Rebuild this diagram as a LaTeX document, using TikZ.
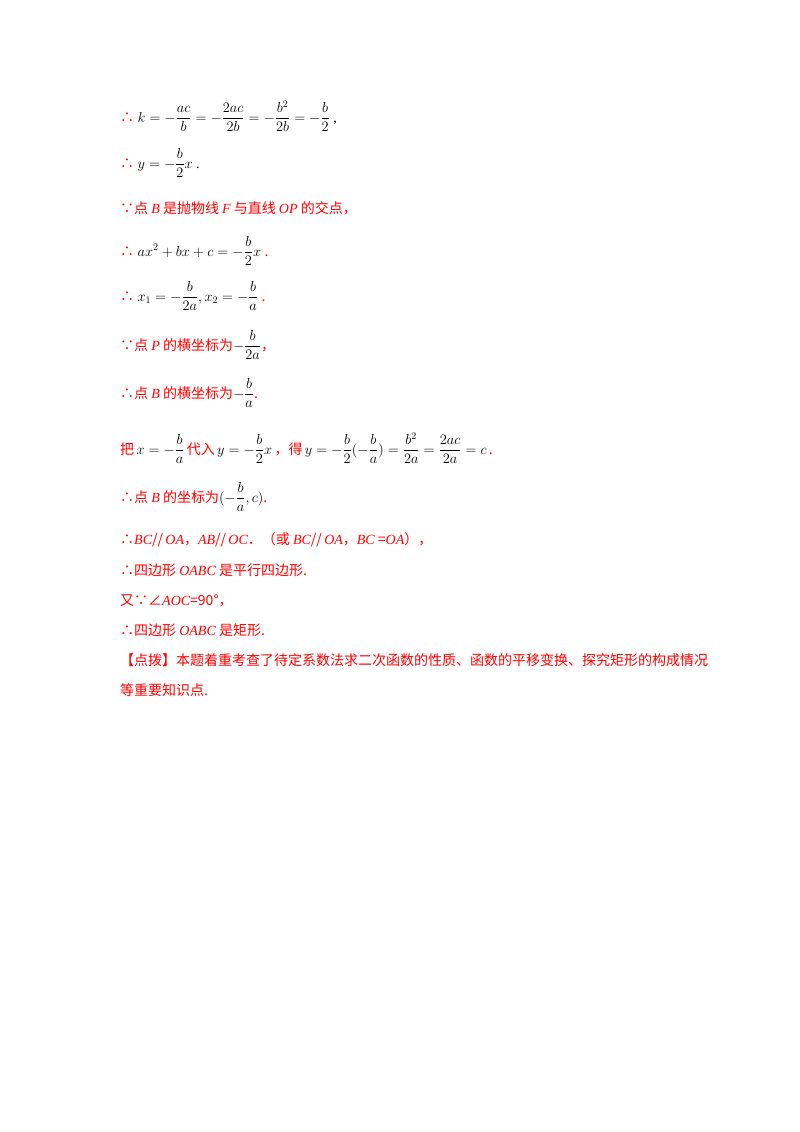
\documentclass[tikz,border=0pt]{standalone}
\usepackage{amsmath}
\usepackage{fontspec}
\setmainfont{Liberation Serif}
\newfontfamily\cjk{Noto Sans CJK SC}
\definecolor{rd}{RGB}{255,0,0}
\newcommand{\rc}[1]{\textcolor{rd}{\cjk #1}}
\newcommand{\ri}[1]{\textcolor{rd}{\rmfamily\itshape #1}}
\begin{document}
\begin{tikzpicture}[x=1pt,y=-1pt,
  ln/.style={anchor=base west,inner sep=0pt,font=\fontsize{14}{16}\selectfont}]
\useasboundingbox (0,0) rectangle (800,1132);
\node[ln] (l1) at (120,122) {\rc{∴} $k=-\dfrac{ac}{b}=-\dfrac{2ac}{2b}=-\dfrac{b^2}{2b}=-\dfrac{b}{2}$ ,};
\node[ln] (l2) at (120,168) {\rc{∴} $y=-\dfrac{b}{2}x$ .};
\node[ln] (l3) at (120,213) {\rc{∵点 \ri{B} 是抛物线 \ri{F} 与直线 \ri{OP} 的交点，}};
\node[ln] (l4) at (120,256) {\rc{∴} $ax^2+bx+c=-\dfrac{b}{2}x$ \rc{.}};
\node[ln] (l5) at (120,301) {\rc{∴} $x_1=-\dfrac{b}{2a},x_2=-\dfrac{b}{a}$ \rc{.}};
\node[ln] (l6) at (120,350) {\rc{∵点 \ri{P} 的横坐标为}$-\dfrac{b}{2a}$\rc{，}};
\node[ln] (l7) at (120,398) {\rc{∴点 \ri{B} 的横坐标为}$-\dfrac{b}{a}$\rc{.}};
\node[ln] (l8) at (120,454) {\rc{把}\,$x=-\dfrac{b}{a}$\,\rc{代入}\,$y=-\dfrac{b}{2}x$\,\rc{，得}\,$y=-\dfrac{b}{2}(-\dfrac{b}{a})=\dfrac{b^2}{2a}=\dfrac{2ac}{2a}=c$\,\rc{.}};
\node[ln] (l9) at (120,502) {\rc{∴点 \ri{B} 的坐标为}$(-\dfrac{b}{a},c)$\rc{.}};
\node[ln] (l10) at (120,544) {\rc{∴\ri{BC}//\,\ri{OA}，\ri{AB}//\,\ri{OC}．（或 \ri{BC}//\,\ri{OA}，\ri{BC} =\ri{OA}），}};
\node[ln] (l11) at (120,575) {\rc{∴四边形 \ri{OABC} 是平行四边形.}};
\node[ln] (l12) at (120,605) {\rc{又∵∠\ri{AOC}=90°，}};
\node[ln] (l13) at (120,635) {\rc{∴四边形 \ri{OABC} 是矩形.}};
\node[ln] (l14) at (120,665) {\rc{【点拨】本题着重考查了待定系数法求二次函数的性质、函数的平移变换、探究矩形的构成情况}};
\node[ln] (l15) at (120,695) {\rc{等重要知识点.}};
\end{tikzpicture}
\end{document}
